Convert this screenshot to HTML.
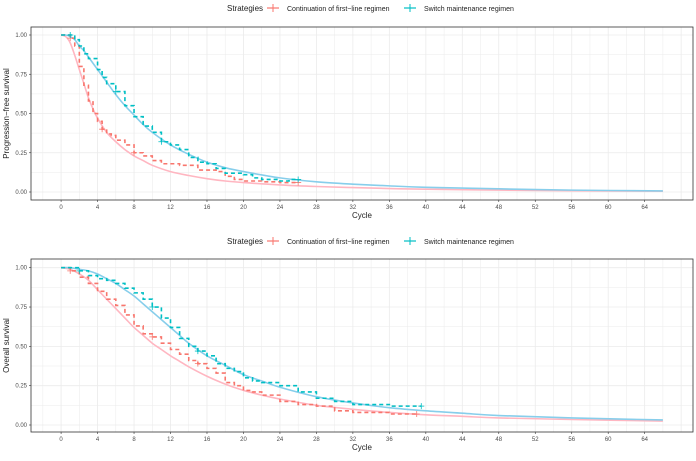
<!DOCTYPE html>
<html><head><meta charset="utf-8"><style>
body{margin:0;background:#fff;font-family:"Liberation Sans",sans-serif}
svg text{font-family:"Liberation Sans",sans-serif}
</style></head><body>
<svg id="c" width="696" height="456"></svg>
<script>
const xTicks=[0,4,8,12,16,20,24,28,32,36,40,44,48,52,56,60,64];
const yTicks=[0,0.25,0.5,0.75,1];
const yTickLabels=["0.00","0.25","0.50","0.75","1.00"];
const pfsRedKmT=[0,1,1.5,2,2.5,3,3.5,4,4.5,5,5.5,6,7,8,9,10,11,13,15,17,18,19,20,22,24,26];
const pfsRedKmS=[1,0.98,0.93,0.8,0.68,0.58,0.5,0.45,0.4,0.37,0.36,0.33,0.3,0.25,0.23,0.2,0.18,0.17,0.14,0.13,0.1,0.08,0.07,0.065,0.06,0.06];
const pfsBlueKmT=[0,1,1.5,2,2.5,3,4,4.5,5,6,7,8,9,10,11,12,13,14,15,16,17,18,20,21,22,24,25,26];
const pfsBlueKmS=[1,1,0.97,0.93,0.88,0.85,0.78,0.73,0.69,0.64,0.55,0.48,0.42,0.38,0.32,0.3,0.27,0.22,0.19,0.18,0.15,0.12,0.11,0.09,0.08,0.07,0.08,0.08];
const pfsFitT=[0,0.5,1,1.5,2,2.5,3,3.5,4,5,6,7,8,9,10,12,14,16,18,20,24,28,32,36,40,48,56,66];
const pfsRedFit=[1,0.99,0.95,0.87,0.78,0.69,0.6,0.53,0.47,0.38,0.32,0.27,0.23,0.2,0.17,0.13,0.105,0.085,0.07,0.06,0.045,0.035,0.028,0.022,0.018,0.012,0.008,0.005];
const pfsBlueFit=[1,1,0.99,0.97,0.93,0.9,0.86,0.82,0.78,0.7,0.62,0.55,0.49,0.43,0.38,0.3,0.24,0.19,0.155,0.13,0.09,0.065,0.05,0.039,0.03,0.02,0.012,0.007];
const osRedKmT=[0,1,2,3,4,5,6,7,8,9,10,11,12,13,14,15,16,17,18,19,20,21,22,24,26,28,30,32,36,39];
const osRedKmS=[1,0.98,0.94,0.9,0.85,0.8,0.76,0.7,0.63,0.58,0.56,0.52,0.48,0.45,0.41,0.39,0.36,0.33,0.27,0.25,0.22,0.21,0.19,0.15,0.13,0.12,0.09,0.08,0.07,0.07];
const osBlueKmT=[0,2,3,4,5,6,7,8,9,10,11,12,13,14,15,16,17,18,19,20,21,22,24,26,28,30,32,36,39.5];
const osBlueKmS=[1,0.98,0.95,0.93,0.92,0.9,0.87,0.84,0.8,0.75,0.68,0.62,0.55,0.5,0.47,0.44,0.39,0.36,0.34,0.3,0.28,0.27,0.25,0.21,0.17,0.15,0.13,0.12,0.12];
const osFitT=[0,1,2,3,4,5,6,7,8,9,10,11,12,13,14,16,18,20,22,24,28,32,36,40,44,48,56,66];
const osRedFit=[1,0.99,0.96,0.92,0.86,0.8,0.74,0.68,0.62,0.57,0.52,0.48,0.44,0.405,0.37,0.31,0.26,0.22,0.19,0.165,0.125,0.1,0.08,0.065,0.055,0.045,0.035,0.025];
const osBlueFit=[1,1,0.99,0.98,0.96,0.93,0.9,0.86,0.82,0.77,0.72,0.67,0.62,0.57,0.52,0.44,0.38,0.32,0.28,0.24,0.18,0.14,0.11,0.09,0.075,0.06,0.045,0.032];

const NS="http://www.w3.org/2000/svg";
const svg=document.getElementById('c');
function mk(tag,attrs,parent){const e=document.createElementNS(NS,tag);for(const k in attrs)e.setAttribute(k,attrs[k]);(parent||svg).appendChild(e);return e;}
const X0=-3.3,X1=69.3,L=31,R=693;
function sx(v){return L+(v-X0)/(X1-X0)*(R-L);}
function smooth(pts){let d='M'+pts[0][0]+','+pts[0][1];
  for(let i=0;i<pts.length-1;i++){const p0=pts[Math.max(0,i-1)],p1=pts[i],p2=pts[i+1],p3=pts[Math.min(pts.length-1,i+2)];
    d+=` C${p1[0]+(p2[0]-p0[0])/6},${p1[1]+(p2[1]-p0[1])/6} ${p2[0]-(p3[0]-p1[0])/6},${p2[1]-(p3[1]-p1[1])/6} ${p2[0]},${p2[1]}`;}
  return d;}

function panel(name,top,bottom,y1,y0,ylab,redKmT,redKmS,blueKmT,blueKmS,fitT,redFit,blueFit,legY){
  const g=mk('g',{});
  
  
  const sy=v=>y0+(y1-y0)*v;
  const lg=mk('g',{},g);
  
  
  const t0=mk('text',{x:227,y:legY+4,'font-size':8,fill:'#222'},lg);t0.textContent='Strategies';
  [[273,'#F8766D','Continuation of first−line regimen'],[410,'#00BFC4','Switch maintenance regimen']].forEach(([x,c,l])=>{
    const e=mk('g',{},lg);
    
    
    mk('line',{x1:x-6,x2:x+6,y1:legY+1,y2:legY+1,stroke:c,'stroke-width':1.2},e);
    mk('line',{x1:x,x2:x,y1:legY-3,y2:legY+5,stroke:c,'stroke-width':1},e);
    const t=mk('text',{x:x+14,y:legY+4,'font-size':7,fill:'#222'},e);t.textContent=l;
  });
  for(let v=-2;v<=68;v+=2){const maj=v%4===0;
    mk('line',{x1:sx(v),x2:sx(v),y1:top,y2:bottom,stroke:'#ebebeb','stroke-width':maj?0.8:0.5},g);}
  for(let v=0;v<=1.0001;v+=0.125){const maj=Math.round(v*8)%2===0;
    mk('line',{x1:L,x2:R,y1:sy(v),y2:sy(v),stroke:'#ebebeb','stroke-width':maj?0.8:0.5},g);}
  [[redFit,'#FFB6C1','fit-continuation'],[blueFit,'#87CEEB','fit-switch']].forEach(([arr,c,n])=>{
    const p=mk('path',{d:smooth(fitT.map((t,i)=>[sx(t),sy(arr[i])])),fill:'none',stroke:c,'stroke-width':1.6},g);
    
    
  });
  [[redKmT,redKmS,'#F8766D','km-continuation'],[blueKmT,blueKmS,'#00BFC4','km-switch']].forEach(([T,S,c,n])=>{
    let d='M'+sx(T[0])+','+sy(S[0]);
    for(let i=1;i<T.length;i++){d+=' H'+sx(T[i])+' V'+sy(S[i]);}
    const p=mk('path',{d:d,fill:'none',stroke:c,'stroke-width':1.6,'stroke-dasharray':'4,3'},g);
    
    
    [1,Math.floor(T.length/3),Math.floor(T.length/2),T.length-1].forEach(i=>{
      const x=sx(T[i]),y=sy(S[i]);
      mk('path',{d:`M${x-3},${y}H${x+3}M${x},${y-3}V${y+3}`,stroke:c,'stroke-width':0.8},g);
    });
  });
  mk('rect',{x:L,y:top,width:R-L,height:bottom-top,fill:'none',stroke:'#333','stroke-width':0.8},g);
  xTicks.forEach(v=>{mk('line',{x1:sx(v),x2:sx(v),y1:bottom,y2:bottom+2,stroke:'#333','stroke-width':0.6},g);
    const t=mk('text',{x:sx(v),y:bottom+9,'font-size':6,fill:'#4d4d4d','text-anchor':'middle'},g);t.textContent=v;});
  yTicks.forEach((v,i)=>{mk('line',{x1:L-2,x2:L,y1:sy(v),y2:sy(v),stroke:'#333','stroke-width':0.6},g);
    const t=mk('text',{x:L-4,y:sy(v)+2,'font-size':6,fill:'#4d4d4d','text-anchor':'end'},g);t.textContent=yTickLabels[i];});
  const xt=mk('text',{x:(L+R)/2,y:bottom+18,'font-size':8,fill:'#222','text-anchor':'middle'},g);xt.textContent='Cycle';
  
  const yt=mk('text',{x:0,y:0,'font-size':8,fill:'#222','text-anchor':'middle',transform:`translate(9,${(top+bottom)/2}) rotate(-90)`},g);yt.textContent=ylab;
  
}
panel('pfs-chart',27,200,35,192,'Progression−free survival',pfsRedKmT,pfsRedKmS,pfsBlueKmT,pfsBlueKmS,pfsFitT,pfsRedFit,pfsBlueFit,7);
panel('os-chart',259,432,267.7,425,'Overall survival',osRedKmT,osRedKmS,osBlueKmT,osBlueKmS,osFitT,osRedFit,osBlueFit,240);
</script>
</body></html>
